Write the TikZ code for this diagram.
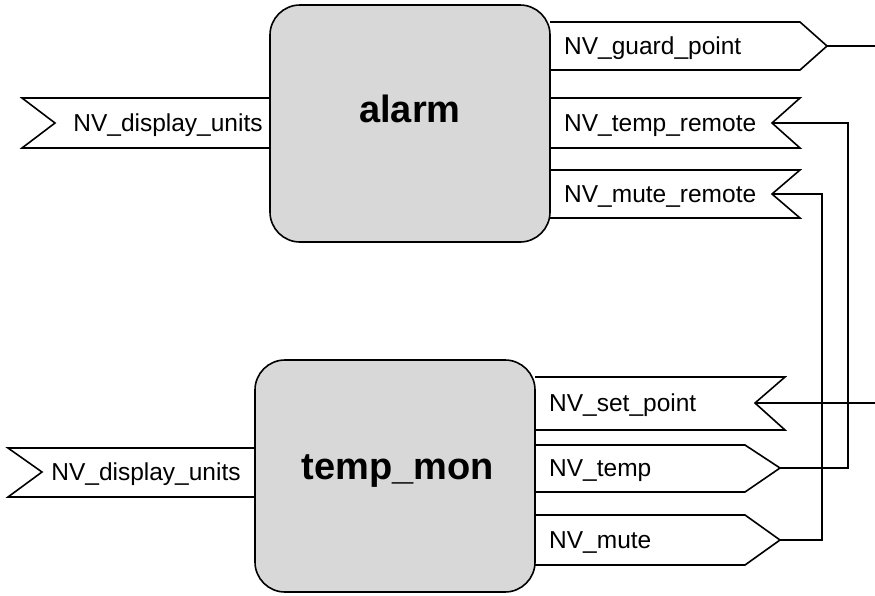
\documentclass[tikz,border=0pt]{standalone}
\usepackage{fontspec}
\setmainfont{Liberation Sans}
\usetikzlibrary{calc,patterns.meta}

\tikzset{
  block/.style={draw, line width=1.6pt, rounded corners=30pt,
    preaction={fill=white}, pattern={Dots[distance=2pt, radius=0.65pt]}, pattern color=black!65},
  flag/.style={draw, line width=1.6pt, fill=white},
  wire/.style={line width=1.6pt},
  nvlabel/.style={font=\fontsize{24.5}{28}\selectfont, inner sep=0pt},
  title/.style={font=\fontsize{38}{44}\selectfont\bfseries, inner sep=0pt}
}

\begin{document}
\begin{tikzpicture}[x=1pt,y=-1pt]
        \useasboundingbox (0,0) rectangle (875,595);

        % alarm
        \draw[flag] (270,98) -- (22,98) -- (55,123) -- (22,148) -- (270,148);
        \node[nvlabel] (alarmunits) at (168,125.5) {NV\_display\_units};

        \draw[flag] (550,22) -- (800,22) -- (827,46) -- (800,70) -- (550,70);
        \coordinate (guard) at (827,46);
        \node[nvlabel, anchor=west] (guardlbl) at (564,48.5) {NV\_guard\_point};

        \draw[flag] (550,98) -- (800,98) -- (772,123) -- (800,148) -- (550,148);
        \coordinate (tempremote) at (772,123);
        \node[nvlabel, anchor=west] (tempremotelbl) at (564,125.5) {NV\_temp\_remote};

        \draw[flag] (550,170) -- (800,170) -- (772,194) -- (800,218) -- (550,218);
        \coordinate (muteremote) at (772,194);
        \node[nvlabel, anchor=west] (muteremotelbl) at (564,196.5) {NV\_mute\_remote};

        \node[block, minimum width=280pt, minimum height=237pt] (alarm) at (410,123.5) {};
        \node[title] (alarmlbl) at (410,109) {alarm};

        % temp_mon
        \draw[flag] (255,448) -- (8,448) -- (42,472) -- (8,497) -- (255,497);
        \node[nvlabel] (monunits) at (146,474.5) {NV\_display\_units};

        \draw[flag] (535,377) -- (785,377) -- (755,403) -- (785,430) -- (535,430);
        \coordinate (setpoint) at (755,403);
        \node[nvlabel, anchor=west] (setpointlbl) at (549,405.5) {NV\_set\_point};

        \draw[flag] (535,445) -- (745,445) -- (780,468) -- (745,492) -- (535,492);
        \coordinate (temp) at (780,468);
        \node[nvlabel, anchor=west] (templbl) at (549,470.5) {NV\_temp};

        \draw[flag] (535,515) -- (745,515) -- (780,540) -- (745,565) -- (535,565);
        \coordinate (mute) at (780,540);
        \node[nvlabel, anchor=west] (mutelbl) at (549,542.5) {NV\_mute};

        \node[block, minimum width=280pt, minimum height=232pt] (tempmon) at (395,476) {};
        \node[title] (tempmonlbl) at (398,471) {temp\_mon};

        % wires
        \coordinate (guardend) at (875,46);
        \coordinate (setpointend) at (875,403);
        \draw[wire] (guard) -- (guardend);
        \draw[wire] (setpoint) -- (setpointend);
        \draw[wire] (temp) -- ++(68,0) |- (tempremote);
        \draw[wire] (mute) -- ++(42,0) |- (muteremote);
\end{tikzpicture}
\end{document}
